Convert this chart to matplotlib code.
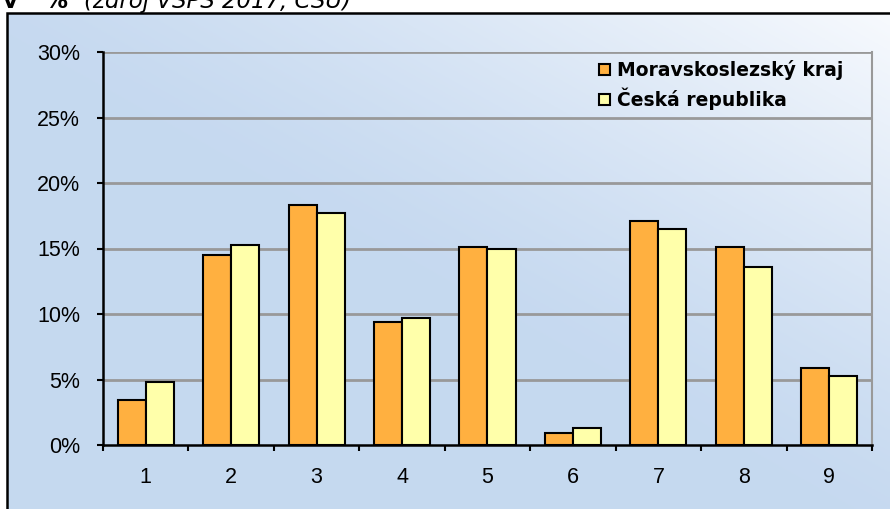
import numpy as np
import matplotlib
matplotlib.use("Agg")
import matplotlib.pyplot as plt
from matplotlib.patches import Rectangle

categories = ["1", "2", "3", "4", "5", "6", "7", "8", "9"]
msk = [3.4, 14.5, 18.3, 9.4, 15.1, 0.9, 17.1, 15.1, 5.9]
cr = [4.8, 15.3, 17.7, 9.7, 15.0, 1.3, 16.5, 13.6, 5.3]
series_names = ["Moravskoslezský kraj", "Česká republika"]
yticks = [0, 5, 10, 15, 20, 25, 30]

W, H = 890, 509
fig = plt.figure(figsize=(W / 100, H / 100), dpi=100)
fig.patch.set_facecolor("white")

# chart area background with diagonal gradient
bx0, by1 = 7, 13
bg = fig.add_axes([bx0 / W, 0, 1 - bx0 / W, (H - by1) / H])
gx, gy = np.meshgrid(np.linspace(0, 1, 300), np.linspace(1, 0, 200))
s = gx + gy
f = np.clip((s - 0.95) / 1.05, 0, 1) ** 1.3
blue = np.array([0.776, 0.851, 0.941])
white = np.array([0.97, 0.98, 0.995])
img = blue[None, None, :] * (1 - f[..., None]) + white[None, None, :] * f[..., None]
bg.imshow(img, aspect="auto", extent=[0, 1, 0, 1])
bg.set_xlim(0, 1)
bg.set_ylim(0, 1)
bg.axis("off")
fig.patches.append(Rectangle((bx0 / W, -0.1), 1.2, (H - by1) / H + 0.1, transform=fig.transFigure,
                             fill=False, edgecolor="black", linewidth=1.8, zorder=5))

# title line (cut at the top edge, as in the source)
fig.text(3 / W, 1 - 8 / H, "v", fontsize=16.5, fontweight="bold", family="DejaVu Sans",
         va="baseline", ha="left")
fig.text(44 / W, 1 - 8 / H, "%", fontsize=16.5, fontweight="bold", family="DejaVu Sans",
         va="baseline", ha="left")
fig.text(84 / W, 1 - 8 / H, "(zdroj VŠPS 2017, ČSÚ)", fontsize=16.5, style="italic",
         family="DejaVu Sans", va="baseline", ha="left")

ax = fig.add_axes([103 / W, (H - 445) / H, (872 - 103) / W, (445 - 52) / H])
ax.patch.set_alpha(0)

x = np.arange(len(categories))
bw = 0.328
ax.bar(x - bw / 2, msk, bw, color="#ffb040", edgecolor="black", linewidth=1.5,
       label=series_names[0], zorder=3)
ax.bar(x + bw / 2, cr, bw, color="#ffffaa", edgecolor="black", linewidth=1.5,
       label=series_names[1], zorder=3)

ax.set_xlim(-0.5, len(categories) - 0.5)
ax.set_ylim(0, 30)
ax.set_yticks(yticks)
ax.set_yticklabels([f"{v}%" for v in yticks], fontsize=15.5, family="Liberation Sans")
ax.set_xticks(x)
ax.set_xticklabels(categories, fontsize=15.5, family="Liberation Sans")
ax.set_xticks(np.arange(-0.5, len(categories)), minor=True)
ax.tick_params(axis="x", which="major", length=0, pad=16)
ax.tick_params(axis="x", which="minor", length=4, width=1.5, direction="out")
ax.tick_params(axis="y", which="major", length=4.5, width=1.5, direction="out", pad=12)

for yv in yticks[1:]:
    ax.axhline(yv, color="#999999", linewidth=2, zorder=1)

ax.spines["left"].set_linewidth(1.8)
ax.spines["bottom"].set_linewidth(1.8)
ax.spines["left"].set_zorder(4)
ax.spines["bottom"].set_zorder(4)
ax.spines["right"].set_color("#999999")
ax.spines["right"].set_linewidth(1.5)
ax.spines["top"].set_visible(False)

leg = ax.legend(loc="upper right", bbox_to_anchor=(0.980, 1.012), frameon=False,
                prop={"family": "DejaVu Sans", "weight": "bold", "size": 13.5},
                handlelength=0.55, handleheight=0.55, handletextpad=0.4, labelspacing=0.4,
                borderaxespad=0.3)

fig.savefig("out.png", dpi=100)
